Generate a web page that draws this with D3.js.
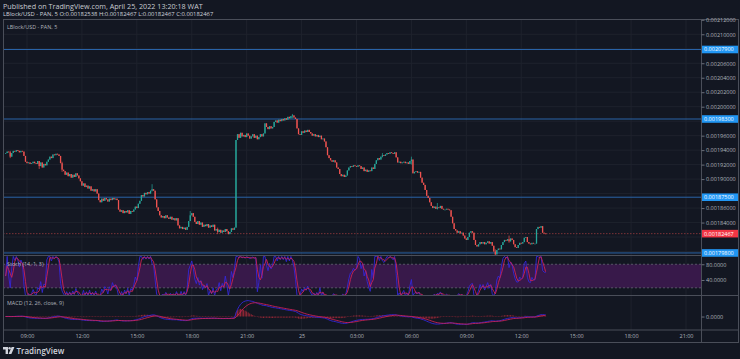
<!DOCTYPE html>
<html>
<head>
<meta charset="utf-8">
<script src="https://cdnjs.cloudflare.com/ajax/libs/d3/7.8.5/d3.min.js"></script>
<style>
  html, body { margin: 0; padding: 0; background: #131722; overflow: hidden; }
  svg { display: block; }
  text { font-family: "Open Sans", "Noto Sans", sans-serif; }
</style>
</head>
<body>
<div id="chart"></div>
<script>
// 5 minute closes in units of 1e-6 (1936 -> 0.001936), first bar Apr 24 07:50
const closes = [
  1936, 1938, 1937, 1931, 1936, 1939, 1938, 1940, 1939, 1937, 1939, 1938,
  1932, 1924, 1922, 1923, 1921, 1922, 1924, 1922, 1921, 1925, 1918, 1923,
  1916, 1921, 1919, 1924, 1927, 1931, 1929, 1934, 1933, 1935, 1934, 1932,
  1922, 1913, 1911, 1906, 1909, 1904, 1907, 1902, 1906, 1903, 1908, 1905,
  1901, 1897, 1891, 1894, 1889, 1891, 1887, 1890, 1884, 1886, 1883, 1886,
  1880, 1871, 1868, 1873, 1870, 1874, 1872, 1869, 1873, 1871, 1874, 1872,
  1873, 1871, 1858, 1855, 1857, 1853, 1856, 1854, 1857, 1852, 1856, 1855,
  1858, 1862, 1860, 1866, 1870, 1878, 1876, 1881, 1879, 1882, 1880, 1884,
  1886, 1884, 1872, 1861, 1856, 1850, 1847, 1849, 1846, 1850, 1847, 1845,
  1848, 1844, 1846, 1843, 1846, 1836, 1832, 1834, 1831, 1833, 1830, 1834,
  1842, 1850, 1853, 1848, 1841, 1838, 1842, 1837, 1840, 1834, 1837, 1835,
  1838, 1833, 1836, 1834, 1837, 1829, 1831, 1827, 1830, 1826, 1829, 1827,
  1831, 1828, 1824, 1827, 1832, 1830, 1833, 1954, 1962, 1957, 1964, 1959,
  1961, 1958, 1963, 1960, 1956, 1959, 1962, 1957, 1960, 1955, 1958, 1962,
  1959, 1963, 1977, 1972, 1969, 1973, 1970, 1972, 1979, 1981, 1978, 1982,
  1980, 1983, 1981, 1984, 1982, 1986, 1984, 1987, 1988, 1985, 1983, 1970,
  1962, 1961, 1966, 1964, 1967, 1965, 1968, 1965, 1963, 1960, 1962, 1959,
  1961, 1958, 1960, 1955, 1956, 1952, 1944, 1933, 1929, 1926, 1924, 1926,
  1923, 1916, 1914, 1907, 1904, 1906, 1903, 1905, 1912, 1916, 1918, 1917,
  1919, 1918, 1917, 1919, 1918, 1914, 1916, 1911, 1913, 1910, 1912, 1911,
  1916, 1914, 1921, 1926, 1929, 1927, 1931, 1933, 1932, 1934, 1936, 1935,
  1937, 1936, 1935, 1937, 1930, 1923, 1924, 1922, 1923, 1924, 1922, 1923,
  1921, 1925, 1927, 1908, 1910, 1911, 1909, 1910, 1902, 1895, 1892, 1885,
  1877, 1874, 1868, 1863, 1860, 1862, 1859, 1861, 1860, 1863, 1859, 1858,
  1858, 1859, 1858, 1857, 1848, 1839, 1831, 1829, 1826, 1828, 1825, 1826,
  1822, 1818, 1816, 1820, 1826, 1828, 1826, 1816, 1809, 1807, 1810, 1813,
  1811, 1813, 1810, 1812, 1814, 1811, 1813, 1808, 1800, 1796, 1802, 1804,
  1803, 1809, 1813, 1816, 1815, 1817, 1814, 1818, 1816, 1810, 1806, 1805,
  1809, 1812, 1811, 1813, 1819, 1820, 1813, 1811, 1810, 1812, 1811, 1811,
  1831, 1834, 1833, 1835, 1826, 1825, 1824.67
];

// a few visible wicks: [bar index, high, low]
const wicks = [
  [3, 1939, 1929], [22, 1925, 1914], [37, 1924, 1910], [96, 1893, 1883],
  [121, 1856, 1848], [139, 1833, 1824], [188, 1990, 1984], [247, 1936, 1930],
  [266, 1931, 1920], [283, 1867, 1858], [321, 1803, 1794], [330, 1822, 1812]
];

const priceTicks = [2120, 2100, 2080, 2060, 2040, 2020, 2000, 1980, 1960, 1940, 1920, 1900, 1880, 1860, 1840, 1820, 1800];
const levels = [2079, 1983, 1875, 1798];
const lastPrice = 1824.67;
const timeTicks = ["09:00", "12:00", "15:00", "18:00", "21:00", "25", "03:00", "06:00", "09:00", "12:00", "15:00", "18:00", "21:00"];
const stochTicks = [80, 40];
const stochBands = [80, 20];
const macdTicks = [0];

// layout
const W = 740, H = 359;
const left = 3, axisX = 701, right = 738;
const mainTop = 19, mainBottom = 255.5;
const stochTop = 255.5, stochBottom = 295.5;
const macdTop = 295.5, macdBottom = 330, frameBottom = 342;

const bg = "#131722", grid = "#1e222d", frame = "#4a4e59", axisText = "#b2b5be";
const upColor = "#26a69a", downColor = "#ef5350";

const svg = d3.select("#chart").append("svg").attr("width", W).attr("height", H);
svg.append("rect").attr("width", W).attr("height", H).attr("fill", bg);

// scales
const t0 = new Date(2022, 3, 24, 7, 50);
const step = 5 * 60 * 1000;
const x = d3.scaleTime()
  .domain([new Date(2022, 3, 24, 9), new Date(2022, 3, 25, 21)])
  .range([27, 686]);
const y = d3.scaleLinear().domain([1794.5, 2121.1]).range([mainBottom, mainTop]);
const yStoch = d3.scaleLinear().domain([0, 100]).range([295.7, 256.4]);
const yMacd = d3.scaleLinear().domain([-29.5, 46]).range([macdBottom, macdTop]);
const barW = (x(new Date(t0.getTime() + step)) - x(t0)) * 0.85;

// candles: open = previous close
const candles = closes.map((c, i) => {
  const o = i ? closes[i - 1] : c;
  return { t: new Date(t0.getTime() + i * step), o, c, h: Math.max(o, c), l: Math.min(o, c) };
});
wicks.forEach(([i, h, l]) => {
  candles[i].h = Math.max(candles[i].h, h);
  candles[i].l = Math.min(candles[i].l, l);
});

// stochastic (14, 1, 3)
const k = candles.map((d, i) => {
  const win = candles.slice(Math.max(0, i - 13), i + 1);
  const hh = d3.max(win, (e) => e.h), ll = d3.min(win, (e) => e.l);
  return hh === ll ? 50 : (100 * (d.c - ll)) / (hh - ll);
});
const dLine = k.map((v, i) => d3.mean(k.slice(Math.max(0, i - 2), i + 1)));

// MACD (12, 26, close, 9)
const ema = (arr, n) => {
  const a = 2 / (n + 1);
  let prev = arr[0];
  return arr.map((v) => (prev = prev + a * (v - prev)));
};
const e12 = ema(closes, 12), e26 = ema(closes, 26);
const macd = e12.map((v, i) => v - e26[i]);
const signal = ema(macd, 9);
const hist = macd.map((v, i) => v - signal[i]);

// clip paths
const defs = svg.append("defs");
[["clipMain", mainTop, mainBottom], ["clipStoch", stochTop, stochBottom], ["clipMacd", macdTop, macdBottom]]
  .forEach(([id, top, bottom]) => {
    defs.append("clipPath").attr("id", id)
      .append("rect").attr("x", left).attr("y", top).attr("width", axisX - left).attr("height", bottom - top);
  });

// header text
svg.append("text").attr("x", 3).attr("y", 8.5).attr("fill", "#c8cad0").style("font-size", "7.2px")
  .text("Published on TradingView.com, April 25, 2022 13:20:18 WAT");
svg.append("text").attr("x", 3).attr("y", 15.8).attr("fill", "#d1d4dc").style("font-size", "5.9px")
  .text("LBlock/USD - PAN, 5  O:0.00182538  H:0.00182467  L:0.00182467  C:0.00182467");

// grid
const tickDates = timeTicks.map((_, i) => new Date(2022, 3, 24, 9 + i * 3));
svg.append("g").selectAll("line").data(tickDates).enter().append("line")
  .attr("x1", (d) => x(d)).attr("x2", (d) => x(d))
  .attr("y1", mainTop).attr("y2", macdBottom)
  .attr("stroke", grid).attr("stroke-width", 1);
svg.append("g").selectAll("line").data(priceTicks.filter((p) => y(p) > mainTop + 2)).enter().append("line")
  .attr("x1", left).attr("x2", axisX)
  .attr("y1", (d) => y(d)).attr("y2", (d) => y(d))
  .attr("stroke", grid).attr("stroke-width", 1);

// horizontal levels
const main = svg.append("g").attr("clip-path", "url(#clipMain)");
main.selectAll(".level").data(levels).enter().append("line")
  .attr("class", "level")
  .attr("x1", left).attr("x2", axisX)
  .attr("y1", (d) => y(d)).attr("y2", (d) => y(d))
  .attr("stroke", "#2a64a8").attr("stroke-width", 1);
main.append("line")
  .attr("x1", left).attr("x2", axisX)
  .attr("y1", y(lastPrice)).attr("y2", y(lastPrice))
  .attr("stroke", "#ef5350").attr("stroke-opacity", 0.6)
  .attr("stroke-width", 0.8).attr("stroke-dasharray", "1.5,1.5");

// candles
const bars = main.selectAll(".candle").data(candles).enter().append("g").attr("class", "candle");
bars.append("line")
  .attr("x1", (d) => x(d.t)).attr("x2", (d) => x(d.t))
  .attr("y1", (d) => y(d.h)).attr("y2", (d) => y(d.l))
  .attr("stroke", (d) => (d.c >= d.o ? upColor : downColor)).attr("stroke-width", 0.7);
bars.append("rect")
  .attr("x", (d) => x(d.t) - barW / 2)
  .attr("width", barW)
  .attr("y", (d) => y(Math.max(d.o, d.c)))
  .attr("height", (d) => Math.max(0.8, Math.abs(y(d.o) - y(d.c))))
  .attr("fill", (d) => (d.c >= d.o ? upColor : downColor));

svg.append("text").attr("x", 7).attr("y", 28.5).attr("fill", axisText).style("font-size", "5.4px")
  .text("LBlock/USD - PAN, 5");

// stochastic pane
const stoch = svg.append("g").attr("clip-path", "url(#clipStoch)");
stoch.append("rect")
  .attr("x", left).attr("width", axisX - left)
  .attr("y", yStoch(stochBands[0])).attr("height", yStoch(stochBands[1]) - yStoch(stochBands[0]))
  .attr("fill", "#38194a");
stoch.selectAll(".band").data(stochBands).enter().append("line")
  .attr("x1", left).attr("x2", axisX)
  .attr("y1", (d) => yStoch(d)).attr("y2", (d) => yStoch(d))
  .attr("stroke", "#6b6f7a").attr("stroke-width", 0.7).attr("stroke-dasharray", "2,2");
const stochLine = (vals) => d3.line().x((v, i) => x(candles[i].t)).y((v) => yStoch(v))(vals);
stoch.append("path").attr("d", stochLine(k)).attr("fill", "none").attr("stroke", "#3427d6").attr("stroke-width", 0.9);
stoch.append("path").attr("d", stochLine(dLine)).attr("fill", "none").attr("stroke", "#cc2358").attr("stroke-width", 0.9);
svg.append("text").attr("x", 7).attr("y", 266).attr("fill", axisText).style("font-size", "5.4px")
  .text("Stoch (14, 1, 3)");

// MACD pane
const macdG = svg.append("g").attr("clip-path", "url(#clipMacd)");
macdG.selectAll(".hist").data(hist).enter().append("rect")
  .attr("x", (v, i) => x(candles[i].t) - 0.45)
  .attr("width", 0.9)
  .attr("y", (v) => yMacd(Math.max(0, v)))
  .attr("height", (v) => Math.max(0.5, Math.abs(yMacd(v) - yMacd(0))))
  .attr("fill", "#d32f3f").attr("fill-opacity", 0.75);
const macdLine = (vals) => d3.line().x((v, i) => x(candles[i].t)).y((v) => yMacd(v))(vals);
macdG.append("path").attr("d", macdLine(macd)).attr("fill", "none").attr("stroke", "#3427d6").attr("stroke-width", 0.9);
macdG.append("path").attr("d", macdLine(signal)).attr("fill", "none").attr("stroke", "#cc2358").attr("stroke-width", 0.9);
svg.append("text").attr("x", 7).attr("y", 305).attr("fill", axisText).style("font-size", "5.4px")
  .text("MACD (12, 26, close, 9)");

// frame and pane separators
svg.append("rect").attr("x", left + 0.5).attr("y", mainTop + 0.5)
  .attr("width", right - left).attr("height", frameBottom - mainTop)
  .attr("fill", "none").attr("stroke", frame).attr("stroke-width", 1);
[stochTop, stochBottom, macdBottom].forEach((yy) => {
  svg.append("line").attr("x1", left).attr("x2", right + 1).attr("y1", yy).attr("y2", yy)
    .attr("stroke", frame).attr("stroke-width", 1);
});
svg.append("line").attr("x1", axisX + 0.5).attr("x2", axisX + 0.5).attr("y1", mainTop).attr("y2", frameBottom)
  .attr("stroke", frame).attr("stroke-width", 1);

// price axis, hiding ticks that sit under the level boxes
const boxed = levels.concat([lastPrice]);
const visibleTicks = priceTicks.filter((p) => boxed.every((b) => Math.abs(y(p) - y(b)) > 6));
const fmt = (v) => (v / 1e6).toFixed(8);
svg.append("g")
  .attr("transform", `translate(${axisX + 0.5},0)`)
  .call(d3.axisRight(y).tickValues(visibleTicks).tickSize(3).tickPadding(1.5).tickFormat(fmt))
  .call((g) => g.select(".domain").remove())
  .call((g) => g.selectAll("line").attr("stroke", "#6b6f7a"))
  .call((g) => g.selectAll("text").attr("fill", axisText).style("font-size", "5.5px")
    .style("font-family", "'Open Sans', sans-serif"));

// stoch and macd axis labels
svg.append("g").attr("transform", `translate(${axisX + 0.5},0)`)
  .call(d3.axisRight(yStoch).tickValues(stochTicks).tickSize(3).tickPadding(1.5).tickFormat((d) => d.toFixed(4)))
  .call((g) => g.select(".domain").remove())
  .call((g) => g.selectAll("line").attr("stroke", "#6b6f7a"))
  .call((g) => g.selectAll("text").attr("fill", axisText).style("font-size", "5.5px"));
svg.append("g").attr("transform", `translate(${axisX + 0.5},0)`)
  .call(d3.axisRight(yMacd).tickValues(macdTicks).tickSize(3).tickPadding(1.5).tickFormat((d) => d.toFixed(4)))
  .call((g) => g.select(".domain").remove())
  .call((g) => g.selectAll("line").attr("stroke", "#6b6f7a"))
  .call((g) => g.selectAll("text").attr("fill", axisText).style("font-size", "5.5px"));

// level label boxes
const boxes = levels.map((v) => ({ v, fill: "#2196f3" })).concat([{ v: lastPrice, fill: "#f23645" }]);
const boxG = svg.append("g").selectAll("g").data(boxes).enter().append("g")
  .attr("transform", (d) => `translate(${axisX + 1},${y(d.v)})`);
boxG.append("rect").attr("x", 0).attr("y", -3.8).attr("width", 36).attr("height", 7.6)
  .attr("fill", (d) => d.fill);
boxG.append("text").attr("x", 2).attr("y", 0).attr("dy", "0.35em")
  .attr("fill", "#ffffff").style("font-size", "5.5px").text((d) => fmt(d.v));

// time axis
svg.append("g")
  .attr("transform", `translate(0,${macdBottom})`)
  .call(d3.axisBottom(x).tickValues(tickDates).tickSize(0).tickPadding(4).tickFormat((d, i) => timeTicks[i]))
  .call((g) => g.select(".domain").remove())
  .call((g) => g.selectAll("text").attr("fill", axisText).style("font-size", "5.5px"));

// TradingView logo
const logo = svg.append("g").attr("transform", "translate(3,347)").attr("fill", "#d1d4dc");
logo.append("path").attr("d", "M0 0h5v7h-2.4v-4.6h-2.6z");
logo.append("circle").attr("cx", 6.6).attr("cy", 1.3).attr("r", 1.2);
logo.append("path").attr("d", "M8.6 0h2.8l-3 7h-2.8z");
logo.append("text").attr("x", 13.5).attr("y", 6.6).style("font-size", "8px").style("font-weight", "600")
  .text("TradingView");
</script>
</body>
</html>
